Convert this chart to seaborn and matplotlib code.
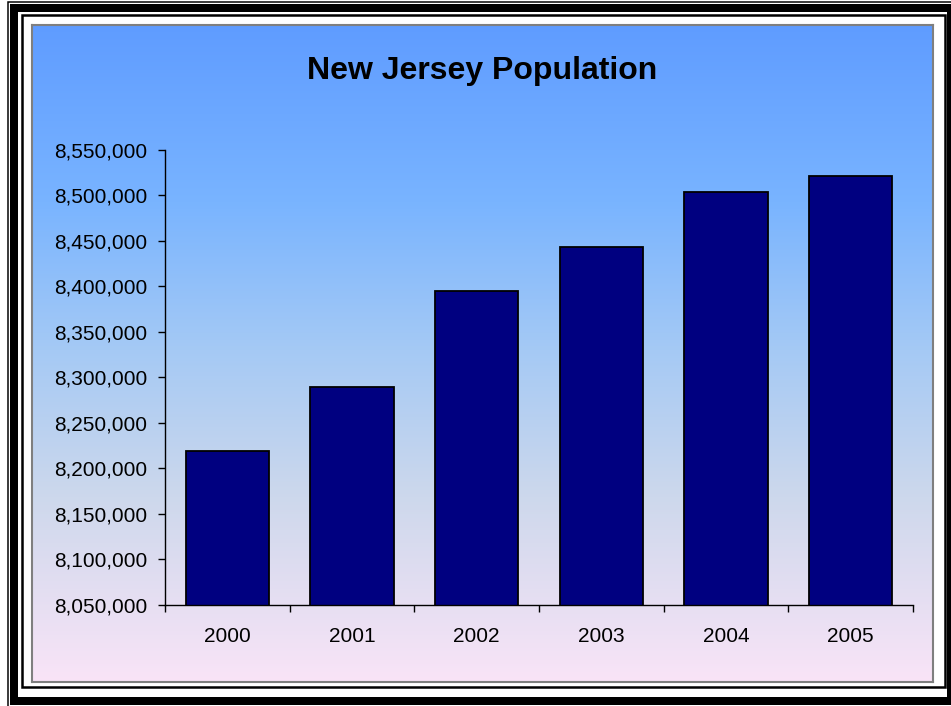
import numpy as np
import matplotlib
matplotlib.use("Agg")
import matplotlib.pyplot as plt
import matplotlib.ticker as mticker
from matplotlib.colors import LinearSegmentedColormap
from matplotlib.patches import Rectangle
import seaborn as sns

# data
years = ["2000", "2001", "2002", "2003", "2004", "2005"]
population = [8219000, 8289500, 8395000, 8443500, 8504000, 8521500]
y_ticks = [8050000, 8100000, 8150000, 8200000, 8250000, 8300000,
           8350000, 8400000, 8450000, 8500000, 8550000]

W, H = 951, 706


def px_box(x0, y0, x1, y1):
    # pixel box (top-left origin) -> figure fraction [left, bottom, width, height]
    return [x0 / W, 1 - y1 / H, (x1 - x0) / W, (y1 - y0) / H]


def px_rect(fig, x0, y0, x1, y1, lw_px, color="black", z=1):
    b = px_box(x0, y0, x1, y1)
    fig.patches.append(Rectangle((b[0], b[1]), b[2], b[3], transform=fig.transFigure,
                                 fill=False, edgecolor=color, linewidth=lw_px * 72 / 100,
                                 zorder=z))


sns.set_style("white")
plt.rcParams["font.family"] = ["Liberation Sans", "DejaVu Sans"]
plt.rcParams["text.color"] = "black"
plt.rcParams["xtick.color"] = "black"
plt.rcParams["ytick.color"] = "black"
plt.rcParams["xtick.labelcolor"] = "black"
plt.rcParams["ytick.labelcolor"] = "black"

fig = plt.figure(figsize=(W / 100, H / 100), dpi=100)
fig.patch.set_facecolor("white")

# triple line frame
px_rect(fig, 7.5, 1.5, 955, 712, 1.5)
px_rect(fig, 14, 7.5, 951, 701, 8)
px_rect(fig, 22, 14.5, 944.5, 686.5, 2.5)

# gradient chart area
bg = fig.add_axes(px_box(32, 25, 933, 682))
grad = LinearSegmentedColormap.from_list(
    "bg", [(0.0, "#5f9cff"), (0.27, "#79b4ff"), (0.49, "#a4c9f5"),
           (0.72, "#cdd8ec"), (1.0, "#f9e4f7")])
bg.imshow(np.linspace(0, 1, 256).reshape(-1, 1), aspect="auto", cmap=grad,
          extent=[0, 1, 0, 1], origin="upper")
bg.set_xticks([])
bg.set_yticks([])
for s in bg.spines.values():
    s.set_color("#7f7f7f")
    s.set_linewidth(1.5)

ax = fig.add_axes(px_box(165, 150, 913, 605))
ax.patch.set_alpha(0)
sns.barplot(x=years, y=population, color="#000080", saturation=1,
            edgecolor="black", linewidth=1.3, width=0.67, ax=ax)

ax.set_ylim(y_ticks[0], y_ticks[-1])
ax.set_xlim(-0.5, len(years) - 0.5)
ax.set_yticks(y_ticks)
ax.yaxis.set_major_formatter(mticker.StrMethodFormatter("{x:,.0f}"))

# ticks between categories, labels at centres
ax.set_xticks(np.arange(-0.5, len(years), 1.0))
ax.set_xticklabels([])
ax.set_xticks(np.arange(len(years)), minor=True)
ax.set_xticklabels(years, minor=True)
ax.tick_params(axis="x", which="major", bottom=True, direction="out", length=5,
               width=1, color="black")
ax.tick_params(axis="x", which="minor", bottom=True, length=0, pad=16,
               labelsize=15, labelcolor="black")
ax.tick_params(axis="y", left=True, direction="out", length=5, width=1, color="black",
               pad=8, labelsize=15, labelcolor="black")
ax.set_xlabel("")
ax.set_ylabel("")

for side in ["top", "right"]:
    ax.spines[side].set_visible(False)
for side in ["left", "bottom"]:
    ax.spines[side].set_color("black")
    ax.spines[side].set_linewidth(1)

fig.text(482.5 / W, 1 - 71 / H, "New Jersey Population", ha="center", va="center",
         fontsize=23, fontweight="bold", color="black")

fig.savefig("out.png", dpi=100)
